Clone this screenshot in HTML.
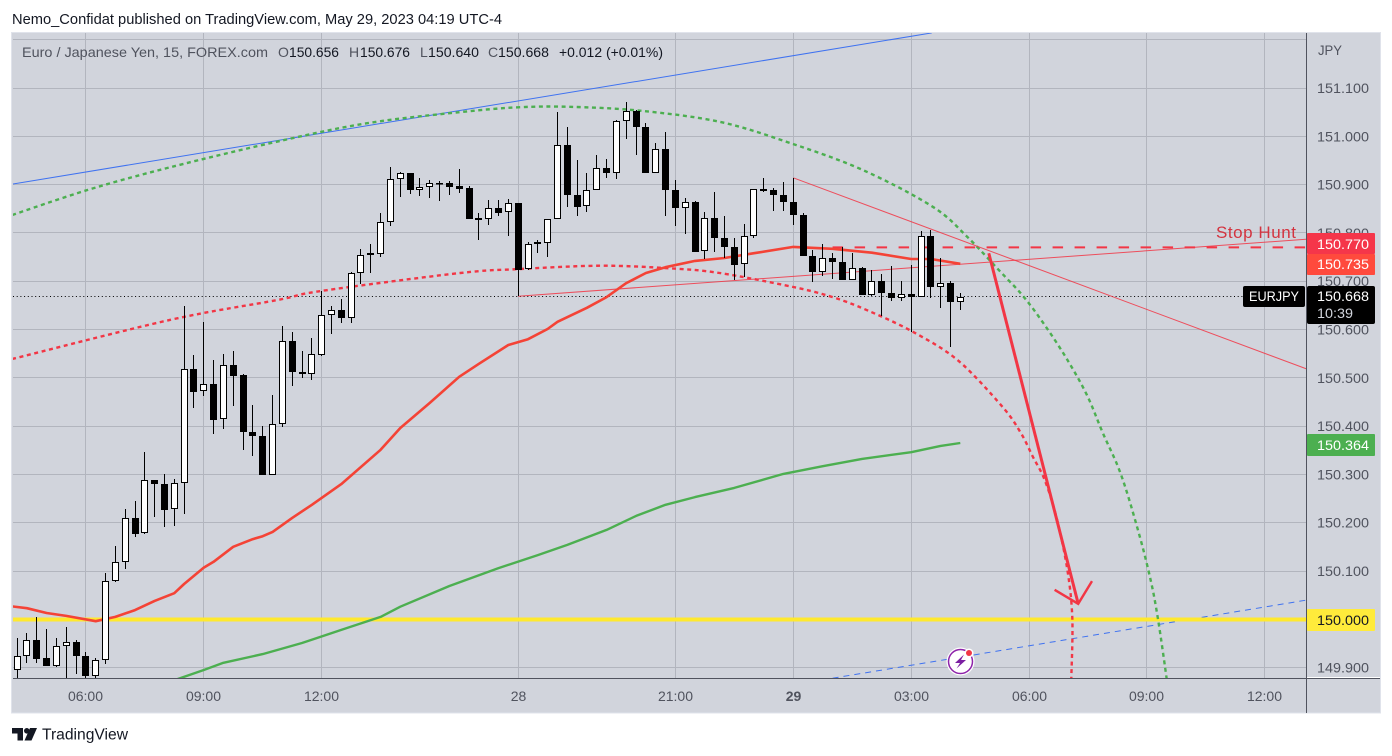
<!DOCTYPE html>
<html lang="en">
<head>
<meta charset="utf-8">
<title>EUR/JPY 15 minute chart</title>
<style>
html,body{margin:0;padding:0;background:#fff;width:1392px;height:756px;overflow:hidden}
svg{display:block;font-family:"Liberation Sans",sans-serif}
</style>
</head>
<body>
<svg id="chart" width="1392" height="756" viewBox="0 0 1392 756" xmlns="http://www.w3.org/2000/svg">
  <defs><clipPath id="plot-clip"><rect x="13" y="33" width="1293" height="645"/></clipPath></defs>
  <text x="12" y="24" font-size="14.5" fill="#131722" textLength="490" lengthAdjust="spacingAndGlyphs">Nemo_Confidat published on TradingView.com, May 29, 2023 04:19 UTC-4</text>
  <rect x="11.5" y="32.5" width="1369" height="680.5" fill="#d1d4dc" stroke="#e0e3eb"/>
  <g id="grid"></g>
  <g id="plot" clip-path="url(#plot-clip)">
    <g id="drawings-under"></g>
    <g id="ma-lines"></g>
    <g id="candles"></g>
    <g id="drawings-over"></g>
  </g>
  <line x1="1306.5" y1="33" x2="1306.5" y2="713" stroke="#50535e"/>
  <line x1="13" y1="678.5" x2="1380" y2="678.5" stroke="#50535e"/>
  <line x1="1307" y1="677.5" x2="1380" y2="677.5" stroke="#ffffff"/>
  <g id="price-axis"></g>
  <g id="time-axis"></g>
  <text x="1318" y="55" font-size="14" fill="#50535e" textLength="24" lengthAdjust="spacingAndGlyphs">JPY</text>

  <g font-size="14">
    <text x="22" y="57" fill="#50535e" textLength="246" lengthAdjust="spacingAndGlyphs">Euro / Japanese Yen, 15, FOREX.com</text>
    <text x="278" y="57" fill="#50535e">O</text>
    <text x="289" y="57" fill="#131722" textLength="50" lengthAdjust="spacingAndGlyphs">150.656</text>
    <text x="349" y="57" fill="#50535e">H</text>
    <text x="360" y="57" fill="#131722" textLength="50" lengthAdjust="spacingAndGlyphs">150.676</text>
    <text x="420" y="57" fill="#50535e">L</text>
    <text x="428" y="57" fill="#131722" textLength="51" lengthAdjust="spacingAndGlyphs">150.640</text>
    <text x="488" y="57" fill="#50535e">C</text>
    <text x="498" y="57" fill="#131722" textLength="51" lengthAdjust="spacingAndGlyphs">150.668</text>
    <text x="559" y="57" fill="#131722" textLength="104" lengthAdjust="spacingAndGlyphs">+0.012 (+0.01%)</text>
  </g>

  <text x="1216" y="238" font-size="17" fill="#d4333f" textLength="80" lengthAdjust="spacing">Stop Hunt</text>

  <g>
    <rect x="1307" y="233" width="68" height="21" rx="1" fill="#f5364a"/>
    <text x="1317" y="249" font-size="14" fill="#fff" textLength="52" lengthAdjust="spacingAndGlyphs">150.770</text>
    <rect x="1307" y="254" width="68" height="21" rx="1" fill="#ff4a3d"/>
    <text x="1317" y="269" font-size="14" fill="#fff" textLength="52" lengthAdjust="spacingAndGlyphs">150.735</text>
    <rect x="1243" y="286" width="62" height="21" rx="2" fill="#000"/>
    <text x="1249" y="301" font-size="14" fill="#fff" textLength="50" lengthAdjust="spacingAndGlyphs">EURJPY</text>
    <rect x="1307" y="286" width="68" height="38" rx="2" fill="#000"/>
    <text x="1317" y="301" font-size="14" fill="#fff" textLength="52" lengthAdjust="spacingAndGlyphs">150.668</text>
    <text x="1317" y="318" font-size="14" fill="#d1d4dc" textLength="36" lengthAdjust="spacingAndGlyphs">10:39</text>
    <rect x="1307" y="434" width="68" height="22" rx="1" fill="#4caf50"/>
    <text x="1317" y="450" font-size="14" fill="#fff" textLength="52" lengthAdjust="spacingAndGlyphs">150.364</text>
    <rect x="1307" y="609" width="68" height="22" rx="1" fill="#ffeb3b"/>
    <text x="1317" y="625" font-size="14" fill="#131722" textLength="52" lengthAdjust="spacingAndGlyphs">150.000</text>
  </g>

  <g>
    <circle cx="960.5" cy="661.5" r="14" fill="#fff"/>
    <circle cx="960.5" cy="661.5" r="12" fill="#fff" stroke="#8e24aa" stroke-width="1.5"/>
    <polygon points="964,654.5 955,663 960,663 956.5,668.5 966,660 961,660" fill="#7b1fa2"/>
    <circle cx="969" cy="653" r="4.5" fill="#fff"/>
    <circle cx="969" cy="653" r="3" fill="#f23645"/>
  </g>

  <g>
    <path d="M12 728h11v12.5h-5.5v-7H12z" fill="#131722"/>
    <circle cx="26.8" cy="730.8" r="2.8" fill="#131722"/>
    <polygon points="30,728 37,728 31.5,740.5 24.5,740.5" fill="#131722"/>
    <text x="42" y="739.5" font-size="15.5" fill="#131722" textLength="86" lengthAdjust="spacingAndGlyphs">TradingView</text>
  </g>
</svg>

<script>
// Candles: one entry per 15-minute bar
const opens=[149.896,149.923,149.957,149.919,149.904,149.944,149.954,149.925,149.883,149.915,150.079,150.118,150.209,150.178,150.288,150.281,150.228,150.282,150.518,150.472,150.487,150.414,150.526,150.505,150.388,150.380,150.299,150.405,150.576,150.511,150.508,150.547,150.629,150.640,150.624,150.716,150.754,150.757,150.822,150.911,150.925,150.889,150.896,150.903,150.903,150.897,150.893,150.831,150.828,150.851,150.843,150.861,150.725,150.781,150.780,150.828,150.983,150.879,150.855,150.888,150.934,150.923,151.031,151.052,151.019,150.923,150.973,150.889,150.852,150.863,150.762,150.830,150.790,150.771,150.735,150.793,150.891,150.888,150.879,150.865,150.838,150.753,150.720,150.747,150.740,150.703,150.727,150.672,150.700,150.676,150.666,150.673,150.668,150.793,150.687,150.696,150.656];
const highs=[149.961,149.971,150.005,149.979,149.961,149.984,149.957,149.932,149.919,150.095,150.151,150.228,150.244,150.346,150.289,150.300,150.290,150.649,150.547,150.615,150.536,150.549,150.555,150.507,150.443,150.400,150.464,150.607,150.594,150.555,150.582,150.680,150.648,150.663,150.720,150.767,150.777,150.841,150.936,150.927,150.925,150.914,150.910,150.907,150.907,150.932,150.897,150.841,150.868,150.868,150.870,150.861,150.781,150.785,150.828,151.050,151.019,150.950,150.925,150.961,150.952,151.033,151.070,151.054,151.027,150.986,151.008,150.909,150.872,150.867,150.843,150.884,150.835,150.789,150.818,150.890,150.913,150.892,150.905,150.914,150.841,150.765,150.776,150.758,150.770,150.758,150.729,150.723,150.714,150.731,150.700,150.733,150.803,150.807,150.747,150.700,150.676];
const lows=[149.860,149.910,149.910,149.904,149.902,149.860,149.887,149.870,149.870,149.908,150.077,150.105,150.171,150.176,150.212,150.192,150.194,150.217,150.438,150.462,150.384,150.393,150.442,150.351,150.339,150.299,150.299,150.399,150.482,150.500,150.495,150.546,150.591,150.613,150.613,150.694,150.717,150.751,150.815,150.875,150.881,150.877,150.873,150.867,150.878,150.883,150.829,150.786,150.817,150.834,150.794,150.670,150.724,150.759,150.751,150.828,150.854,150.836,150.844,150.888,150.914,150.912,150.995,150.962,150.923,150.923,150.834,150.815,150.798,150.760,150.745,150.761,150.749,150.702,150.708,150.790,150.884,150.846,150.846,150.817,150.753,150.699,150.711,150.705,150.703,150.703,150.672,150.670,150.627,150.660,150.658,150.595,150.668,150.666,150.645,150.564,150.640];
const closes=[149.923,149.957,149.918,149.904,149.944,149.954,149.925,149.883,149.915,150.079,150.118,150.209,150.177,150.288,150.281,150.227,150.282,150.518,150.471,150.487,150.413,150.526,150.504,150.388,150.380,150.299,150.405,150.576,150.511,150.508,150.549,150.629,150.640,150.624,150.716,150.754,150.758,150.822,150.911,150.925,150.889,150.896,150.903,150.902,150.896,150.891,150.829,150.827,150.851,150.842,150.861,150.724,150.778,150.778,150.828,150.983,150.879,150.854,150.888,150.934,150.923,151.031,151.052,151.019,150.923,150.973,150.889,150.852,150.863,150.761,150.830,150.790,150.771,150.734,150.793,150.890,150.887,150.879,150.865,150.838,150.753,150.720,150.747,150.740,150.703,150.727,150.672,150.700,150.676,150.666,150.673,150.668,150.793,150.687,150.696,150.656,150.668];

// Fast moving average, read at selected bars
const fastMaBars=[-1,1,3,5,8,10,12,14,16,17,19,20,22,24,25,26,28,30,33,37,39,42,45,47,50,52,54,55,58,60,62,64,66,69,72,75,79,83,87,91,93,96];
const fastMaValues=[150.028,150.023,150.013,150.007,149.996,150.005,150.019,150.038,150.054,150.073,150.107,150.119,150.150,150.166,150.172,150.181,150.210,150.237,150.280,150.351,150.396,150.448,150.502,150.529,150.568,150.580,150.601,150.616,150.645,150.667,150.696,150.717,150.729,150.742,150.748,150.758,150.771,150.767,150.759,150.746,150.746,150.736];

// Slow moving average, read at selected bars
const slowMaBars=[16,19,21,25,29,33,37,39,44,49,53,56,60,63,66,69,73,78,82,86,91,94,96];
const slowMaValues=[149.874,149.895,149.910,149.928,149.951,149.978,150.005,150.026,150.069,150.106,150.133,150.154,150.185,150.214,150.237,150.253,150.272,150.301,150.317,150.332,150.346,150.359,150.365];

// Axis ticks
const priceTicks=[149.9,150.0,150.1,150.2,150.3,150.4,150.5,150.6,150.7,150.8,150.9,151.0,151.1,151.2];
const priceTickLabels=["149.900","","150.100","150.200","150.300","150.400","150.500","150.600","150.700","150.800","150.900","151.000","151.100",""];
const timeTickBars=[7,19,31,51,67,79,91,103,115,127];
const timeTickLabels=["06:00","09:00","12:00","28","21:00","29","03:00","06:00","09:00","12:00"];
const timeTickBold=["","","","","","29","","","",""];

// User drawings, anchored to bar and price
const greenArcBars=[-0.5,7.2,15.6,27.1,35.9,45.1,51,56.3,63.4,71.5,78.7,86.1,93.2,96.7,100.2,102.4,104.6,106.9,108.9,110.5,112.3,114,115.3,116.1,117];
const greenArcPrices=[150.837,150.889,150.936,150.992,151.028,151.050,151.060,151.061,151.053,151.030,150.986,150.930,150.854,150.792,150.717,150.669,150.609,150.537,150.464,150.386,150.303,150.191,150.088,150.003,149.878];
const redArcBars=[-0.5,15.6,26.5,31,45.1,51,59.3,66.2,71.5,79,83,86.5,91,95.7,100.2,102.1,103.4,104.6,105.8,106.9,107.4,107.3];
const redArcPrices=[150.539,150.620,150.661,150.680,150.717,150.725,150.732,150.727,150.717,150.688,150.667,150.640,150.597,150.537,150.442,150.388,150.336,150.288,150.210,150.102,150.003,149.878];
const blueTrendBars=[-0.5,93.1];
const blueTrendPrices=[150.901,151.214];
const blueDashedBars=[83,131.3];
const blueDashedPrices=[149.878,150.040];
const risingRedBars=[51,131.3];
const risingRedPrices=[150.669,150.787];
const fallingRedBars=[79,131.3];
const fallingRedPrices=[150.914,150.518];
const stopHuntPrice=150.770;
const stopHuntStartBar=83;
const supportPrice=150.000;
const lastPrice=150.668;
const arrowShaftBars=[98.9,108];
const arrowShaftPrices=[150.758,150.032];
const arrowHeadBars=[105.6,108,109.4];
const arrowHeadPrices=[150.061,150.032,150.079];

const NS='http://www.w3.org/2000/svg';
function xOf(bar){return 17.1+9.825*bar;}
function yOf(price){return 619.3-(price-150)*483;}
function px(v){return Math.floor(v)+0.5;}
function make(tag,attrs,parent){
  const el=document.createElementNS(NS,tag);
  for(const k in attrs){el.setAttribute(k,attrs[k]);}
  parent.appendChild(el);
  return el;
}
function polyPath(bars,prices){
  return bars.map((b,i)=>(i?'L':'M')+xOf(b).toFixed(1)+' '+yOf(prices[i]).toFixed(1)).join(' ');
}
function smoothPath(bars,prices){
  const p=bars.map((b,i)=>[xOf(b),yOf(prices[i])]);
  let d='M'+p[0][0].toFixed(1)+' '+p[0][1].toFixed(1);
  for(let i=0;i<p.length-1;i++){
    const a=p[Math.max(i-1,0)],b=p[i],c=p[i+1],e=p[Math.min(i+2,p.length-1)];
    d+=' C'+(b[0]+(c[0]-a[0])/6).toFixed(1)+' '+(b[1]+(c[1]-a[1])/6).toFixed(1)+' '+(c[0]-(e[0]-b[0])/6).toFixed(1)+' '+(c[1]-(e[1]-b[1])/6).toFixed(1)+' '+c[0].toFixed(1)+' '+c[1].toFixed(1);
  }
  return d;
}

// Grid
const gridG=document.getElementById('grid');
priceTicks.forEach(function(t){
  const y=px(yOf(t));
  const gl=make('line',{x1:13,x2:1306,y1:y,y2:y,stroke:'#b2b5be','stroke-width':1},gridG);
  
  
});
timeTickBars.forEach(function(b){
  const x=px(xOf(b));
  const gl=make('line',{x1:x,x2:x,y1:33,y2:678,stroke:'#b2b5be','stroke-width':1},gridG);
  
  
});

// Price axis
const priceG=document.getElementById('price-axis');
priceTicks.forEach(function(t,i){
  if(!priceTickLabels[i]){return;}
  const tx=make('text',{x:1317,y:(yOf(t)+5).toFixed(1),'font-size':14,fill:'#50535e',textLength:52,lengthAdjust:'spacingAndGlyphs'},priceG);
  tx.textContent=priceTickLabels[i];
  
  
});

// Time axis
const timeG=document.getElementById('time-axis');
timeTickBars.forEach(function(b,i){
  const tx=make('text',{x:px(xOf(b)),y:701,'font-size':14,fill:'#50535e','text-anchor':'middle','font-weight':timeTickBold[i]?'bold':'normal'},timeG);
  tx.textContent=timeTickLabels[i];
  
  
});

// Drawings below the candles
const under=document.getElementById('drawings-under');
const blueLine=make('path',{d:polyPath(blueTrendBars,blueTrendPrices),fill:'none',stroke:'#3f72f0','stroke-width':1},under);


const blueDash=make('path',{d:polyPath(blueDashedBars,blueDashedPrices),fill:'none',stroke:'#3f72f0','stroke-width':1,'stroke-dasharray':'6 5'},under);


const yellow=make('line',{x1:13,x2:1307,y1:yOf(supportPrice)+0.2,y2:yOf(supportPrice)+0.2,stroke:'#ffe92e','stroke-width':4},under);


const dotted=make('line',{x1:13,x2:1245,y1:px(yOf(lastPrice)),y2:px(yOf(lastPrice)),stroke:'#000','stroke-width':1,'stroke-dasharray':'1 2.7'},under);


const greenArc=make('path',{d:smoothPath(greenArcBars,greenArcPrices),fill:'none',stroke:'#4caf50','stroke-width':2.4,'stroke-dasharray':'4 3.6'},under);


const redArc=make('path',{d:smoothPath(redArcBars,redArcPrices),fill:'none',stroke:'#f23645','stroke-width':2.4,'stroke-dasharray':'4 3.6'},under);


const rising=make('path',{d:polyPath(risingRedBars,risingRedPrices),fill:'none',stroke:'#f23645','stroke-width':1,'stroke-opacity':0.85},under);


const falling=make('path',{d:polyPath(fallingRedBars,fallingRedPrices),fill:'none',stroke:'#f23645','stroke-width':1,'stroke-opacity':0.85},under);


const stopHunt=make('line',{x1:xOf(stopHuntStartBar),x2:1307,y1:yOf(stopHuntPrice),y2:yOf(stopHuntPrice),stroke:'#f23645','stroke-width':2,'stroke-dasharray':'10.5 11.5'},under);



// Moving averages
const maG=document.getElementById('ma-lines');
const fastMa=make('path',{d:polyPath(fastMaBars,fastMaValues),fill:'none',stroke:'#f44336','stroke-width':2.6,'stroke-linejoin':'round'},maG);


const slowMa=make('path',{d:polyPath(slowMaBars,slowMaValues),fill:'none',stroke:'#4caf50','stroke-width':2.4,'stroke-linejoin':'round'},maG);



// Candles
const candleG=document.getElementById('candles');
opens.forEach(function(o,i){
  const c=closes[i];
  const up=c>=o;
  const x=px(xOf(i));
  const g=make('g',{},candleG);
  
  
  make('line',{x1:x,x2:x,y1:Math.round(yOf(highs[i])),y2:Math.round(yOf(lows[i])),stroke:'#000','stroke-width':1},g);
  const top=Math.round(yOf(Math.max(o,c)))+0.5;
  const bottom=Math.round(yOf(Math.min(o,c)))-0.5;
  make('rect',{x:x-3,y:top,width:6,height:Math.max(bottom-top,0.5),fill:up?'#fff':'#000',stroke:'#000','stroke-width':1},g);
});

// Arrow above the candles
const over=document.getElementById('drawings-over');
const shaft=make('path',{d:polyPath(arrowShaftBars,arrowShaftPrices),fill:'none',stroke:'#f23645','stroke-width':3},over);


const head=make('path',{d:polyPath(arrowHeadBars,arrowHeadPrices),fill:'none',stroke:'#f23645','stroke-width':2.4},over);


</script>
</body>
</html>
